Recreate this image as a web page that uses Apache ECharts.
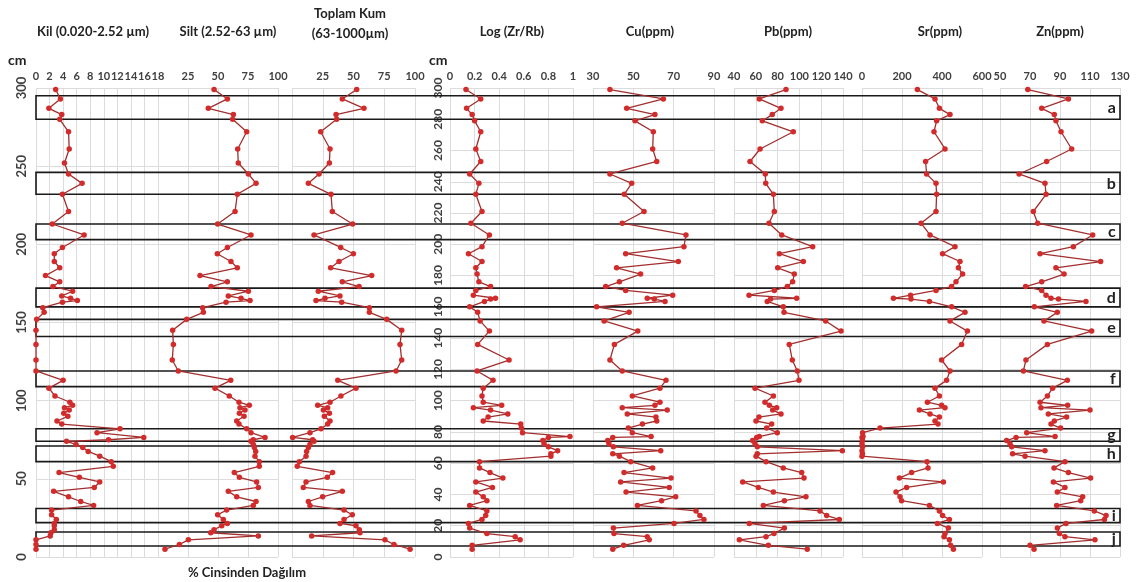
<!DOCTYPE html>
<html>
<head>
<meta charset="utf-8">
<script src="https://cdn.jsdelivr.net/npm/echarts@6/dist/echarts.min.js"></script>
<style>
  html, body { margin: 0; padding: 0; background: #fff; }
  #main { width: 1141px; height: 582px; }
</style>
</head>
<body>
<div id="main"></div>
<script>
// grain size samples (cm)
const grainDepth = [299, 293, 287, 283, 280, 272, 261, 252, 245, 239,
  232, 221, 213, 206, 198, 194, 189, 185, 180, 176,
  173, 170, 167, 165.5, 164, 163, 159.5, 156.5, 152, 145,
  136, 126, 119, 113, 108, 103, 99, 97, 95.5, 94,
  92, 90, 87, 85, 82, 79.5, 76.5, 75, 74, 72,
  70, 67.5, 64.5, 61, 58, 54, 51, 48, 44.5, 42,
  38.5, 35.5, 33, 30, 27, 24, 21.5, 20, 17.5, 15.5,
  13.5, 11, 8, 5]
const kil = [2.9, 3.6, 1.9, 3.8, 3.5, 4.8, 4.9, 4.2, 4.8, 6.8,
  3.9, 4.8, 2.4, 7.1, 3.9, 2.7, 2.7, 3.5, 1.4, 3.5,
  2.5, 5.4, 3.8, 5.1, 6.1, 3.9, 1.0, 1.2, 0.1, 0,
  0, 0, 0, 4.0, 1.9, 2.8, 5.0, 5.4, 4.2, 4.9,
  4.1, 4.7, 3.1, 3.8, 12.4, 9.0, 15.9, 10.7, 4.5, 5.9,
  6.9, 7.7, 9.4, 11.1, 11.4, 3.4, 6.4, 9.4, 8.6, 2.6,
  4.8, 6.6, 8.5, 2.3, 2.3, 3.0, 2.7, 2.7, 2.7, 2.2,
  2.1, 0, 0, 0]
const silt = [46.7, 57.8, 41.9, 62.8, 62.2, 73.9, 66.4, 66.9, 75.3, 81.7,
  66.1, 64.2, 49.7, 77.5, 57.8, 49.4, 60.8, 66.1, 35, 57.8,
  44.2, 75.3, 58.6, 69.2, 76.7, 56.7, 37.2, 37.8, 23.9, 12.2,
  12.8, 11.9, 16.9, 60.6, 47.5, 59.4, 67.5, 76.1, 68.3, 72.5,
  67.8, 71.7, 65.6, 67.5, 73.9, 77.5, 89.2, 79.4, 77.5, 79.4,
  80.3, 81.4, 80.8, 84.4, 84.4, 63.6, 67.8, 82.2, 83.6, 58.6,
  65.6, 81.7, 79.4, 57.2, 49.7, 54.4, 57.8, 53.1, 46.7, 43.9,
  83.6, 25.3, 17.8, 5.8]
const kum = [52.6, 40.9, 58.5, 35.8, 36.3, 23.3, 30.9, 30.4, 22, 13.3,
  31.7, 32.8, 49.3, 17.9, 39.6, 49.9, 38.2, 31.4, 64.8, 40.9,
  54.5, 21.4, 39, 26.8, 19.5, 40.4, 62.9, 62.9, 77, 89.2,
  87.8, 89.2, 84.6, 37.2, 52, 39.8, 30.9, 20.9, 29, 25.5,
  30.4, 26.3, 30.9, 29, 23.6, 14.6, 0.5, 16.8, 17.9, 14.6,
  13.3, 11.9, 11.4, 6, 4.3, 33, 28.7, 11.4, 9.2, 40.9,
  24.9, 13.3, 14.6, 42.3, 49, 42.3, 39, 52, 54.7, 55.3,
  16, 75.6, 82.9, 96]

// geochemistry samples (cm)
const chemDepth = [299, 293, 287, 283, 279, 272, 261, 253, 245, 239,
  232, 221, 213.5, 206, 198.5, 194, 189, 185, 181, 176,
  173, 170.5, 167.5, 165.5, 165, 163.5, 160, 156.5, 151, 144.5,
  136, 126, 119, 113, 108, 103, 99, 97, 95.5, 94,
  91.5, 89.5, 87, 85, 82.5, 79.5, 77, 76.5, 74.5, 72.5,
  70.5, 68, 66, 64.5, 61, 57, 54, 50.5, 48, 44.5,
  41.5, 38.5, 36, 33, 29.5, 26.5, 24, 21.5, 18.5, 15,
  13, 11, 7.5, 5]
const logZrRb = [0.13, 0.25, 0.135, 0.18, 0.2, 0.25, 0.21, 0.25, 0.16, 0.235,
  0.21, 0.26, 0.17, 0.32, 0.26, 0.15, 0.26, 0.21, 0.22, 0.235,
  0.33, 0.21, 0.19, 0.37, 0.33, 0.28, 0.16, 0.225, 0.245, 0.32,
  0.225, 0.48, 0.22, 0.35, 0.27, 0.26, 0.27, 0.42, 0.19, 0.33,
  0.47, 0.31, 0.27, 0.575, 0.58, 0.59, 0.975, 0.8, 0.755, 0.765,
  0.8, 0.875, 0.82, 0.82, 0.24, 0.24, 0.325, 0.43, 0.21, 0.345,
  0.21, 0.27, 0.3, 0.16, 0.3, 0.29, 0.26, 0.15, 0.16, 0.3,
  0.53, 0.57, 0.18, 0.18]
const cu = [38.4, 64.9, 46.7, 60.7, 50.8, 59.9, 59.6, 61.6, 38.4, 49.2,
  45.5, 55.3, 44.5, 76.1, 75.1, 46.2, 72.3, 41.7, 53.6, 43.1,
  36.3, 46.2, 69.5, 56.9, 60.4, 65.7, 31.8, 47.9, 35.5, 52.2,
  40.6, 38.4, 44.5, 66.2, 63.2, 49.5, 63.2, 60.7, 44.5, 66.8,
  47, 61.2, 61.6, 54.5, 47.5, 49.5, 58.8, 39.8, 37.3, 37.9,
  40.1, 63.6, 39.8, 43.1, 48.7, 59.6, 45.4, 68.7, 43.7, 67.8,
  46.4, 71, 64, 52, 81.1, 83, 85, 70.2, 40.1, 40.4,
  56.9, 57.9, 45.2, 39.8]
const pb = [87.7, 63.2, 83.1, 75.1, 66, 94.4, 63.9, 54.7, 68.7, 69.1,
  76.1, 77, 72.1, 83.8, 112.2, 81.6, 103.6, 80.1, 95.3, 93.8,
  88.9, 77, 53.8, 97.5, 73.6, 70.5, 85.2, 85.9, 124.1, 138.2,
  90.7, 93.5, 98.1, 99.6, 59.3, 76.1, 68.4, 72.4, 79.2, 75.5,
  83.1, 62.9, 60.2, 74.6, 70, 79.7, 63.2, 60.8, 57.1, 59.3,
  61.4, 139.4, 61.4, 60.2, 69.4, 85.2, 102.1, 104.2, 48, 62.3,
  76.1, 106, 86.2, 66.9, 118.9, 125, 136.6, 54, 86.2, 76.7,
  69.4, 44.9, 71.5, 107.2]
const sr = [277, 365, 387, 440, 373, 360, 415, 318, 323, 370,
  373, 370, 295, 340, 465, 403, 490, 482, 503, 470,
  448, 370, 243, 157, 245, 337, 448, 515, 440, 527,
  498, 398, 440, 423, 365, 387, 327, 398, 415, 287,
  340, 387, 365, 380, 90, 3, 5, 0, 2, 0,
  3, 0, 2, 0, 325, 330, 248, 187, 407, 223,
  170, 190, 198, 337, 387, 403, 437, 377, 432, 415,
  410, 437, 443, 457]
const zn = [68.5, 95.6, 77.8, 86.2, 87.3, 90.7, 97.8, 81.1, 62.7, 80,
  80.7, 72.2, 75.1, 111.8, 98.9, 76.7, 117.1, 87.3, 92.7, 77.8,
  67.1, 77.8, 80.7, 84, 89, 107.3, 72.9, 88.2, 79.3, 111.1,
  81.6, 67.3, 65.6, 94.9, 85.1, 81.6, 76.7, 95.1, 77.3, 110,
  82.2, 94.4, 86.2, 84, 90.4, 67.8, 86.7, 60.7, 54.4, 56.7,
  57.8, 80, 58.4, 66.7, 93.3, 86, 95.6, 110.4, 85.6, 93.3,
  88.2, 105.1, 103.8, 87.8, 112.9, 120.7, 119.6, 94, 88.2, 89.6,
  93.3, 113.3, 70, 72.7]

// marked zones
const zoneNames = ['a', 'b', 'c', 'd', 'e', 'f', 'g', 'h', 'i', 'j']
const zoneTop = [295, 246, 213, 172, 152, 119, 82, 71, 31, 16]
const zoneBottom = [280, 232, 203, 160, 141, 109, 74, 61, 22, 7]

const panelTitles = ['Kil (0.020-2.52 µm)', 'Silt (2.52-63 µm)', 'Toplam Kum\n(63-1000µm)',
  'Log (Zr/Rb)', 'Cu(ppm)', 'Pb(ppm)', 'Sr(ppm)', 'Zn(ppm)']

const panels = [
  { depth: grainDepth, vals: kil, min: 0, max: 18, step: 2, left: 36, width: 122, tx: 93 },
  { depth: grainDepth, vals: silt, min: 0, max: 100, step: 25, left: 158, width: 120, tx: 228, hideMin: true },
  { depth: grainDepth, vals: kum, min: 0, max: 100, step: 25, left: 292, width: 123, tx: 350, hideMin: true },
  { depth: chemDepth, vals: logZrRb, min: 0, max: 1, step: 0.2, left: 450, width: 123, tx: 512 },
  { depth: chemDepth, vals: cu, min: 30, max: 90, step: 20, left: 593, width: 121, tx: 650 },
  { depth: chemDepth, vals: pb, min: 40, max: 140, step: 20, left: 734, width: 109, tx: 788 },
  { depth: chemDepth, vals: sr, min: 0, max: 600, step: 200, left: 862, width: 120, tx: 940 },
  { depth: chemDepth, vals: zn, min: 50, max: 130, step: 20, left: 1000, width: 120, tx: 1060 }
]

const TOP = 88
const H = 469
const FONT = 'Lato, "Open Sans", sans-serif'
const gridColor = '#dcdcdc'

const chart = echarts.init(document.getElementById('main'))

const grid = []
const xAxis = []
const yAxis = []
const series = []
const graphic = []

panels.forEach((p, i) => {
  grid.push({ left: p.left, top: TOP, width: p.width, height: H, containLabel: false })
  xAxis.push({
    type: 'value',
    gridIndex: i,
    position: 'top',
    min: p.min,
    max: p.max,
    interval: p.step,
    axisLine: { show: false },
    axisTick: { show: false },
    splitLine: { show: true, lineStyle: { color: gridColor, width: 1 } },
    axisLabel: {
      margin: 6,
      showMinLabel: !p.hideMin,
      fontFamily: FONT,
      fontWeight: 'bold',
      fontSize: 11,
      color: '#404040',
      formatter: v => String(Math.round(v * 10) / 10)
    }
  })
  const withLabels = i === 0 || i === 3
  yAxis.push({
    type: 'value',
    gridIndex: i,
    min: 0,
    max: 300,
    interval: i < 3 ? 50 : 20,
    axisLine: { show: false },
    axisTick: { show: false },
    splitLine: { show: true, lineStyle: { color: gridColor, width: 1 } },
    axisLabel: {
      show: withLabels,
      rotate: 90,
      margin: i === 0 ? 8 : 6,
      fontFamily: FONT,
      fontWeight: 'bold',
      fontSize: i === 0 ? 13 : 12,
      color: '#404040'
    }
  })
  series.push({
    type: 'line',
    xAxisIndex: i,
    yAxisIndex: i,
    data: p.vals.map((v, k) => [v, p.depth[k]]),
    symbol: 'circle',
    symbolSize: 5.5,
    showSymbol: true,
    itemStyle: { color: '#d22b2b' },
    lineStyle: { color: '#a32e2e', width: 1.3 },
    silent: true,
    z: 3
  })
  graphic.push({
    type: 'text',
    x: p.tx,
    y: i === 2 ? 4 : 22,
    style: {
      text: panelTitles[i],
      textAlign: 'center',
      fontFamily: FONT,
      fontWeight: 'bold',
      fontSize: 13,
      lineHeight: 20,
      fill: '#222'
    }
  })
})

// full-width grid carrying the zone boxes
const zi = panels.length
grid.push({ left: 36, top: TOP, width: 1084, height: H })
xAxis.push({ type: 'value', gridIndex: zi, min: 0, max: 1, show: false })
yAxis.push({ type: 'value', gridIndex: zi, min: 0, max: 300, show: false })
series.push({
  type: 'line',
  xAxisIndex: zi,
  yAxisIndex: zi,
  data: [],
  silent: true,
  z: 5,
  markArea: {
    silent: true,
    itemStyle: { color: 'rgba(0,0,0,0)', borderColor: '#1a1a1a', borderWidth: 1.6 },
    label: {
      show: true,
      position: 'insideRight',
      distance: 5,
      fontFamily: FONT,
      fontWeight: 'bold',
      fontSize: 16,
      color: '#222'
    },
    data: zoneNames.map((n, k) => [{ name: n, yAxis: zoneTop[k] }, { yAxis: zoneBottom[k] }])
  }
})

graphic.push(
  { type: 'text', x: 8, y: 53, style: { text: 'cm', fontFamily: FONT, fontWeight: 'bold', fontSize: 14, fill: '#222' } },
  { type: 'text', x: 429, y: 53, style: { text: 'cm', fontFamily: FONT, fontWeight: 'bold', fontSize: 14, fill: '#222' } },
  { type: 'text', x: 247, y: 566, style: { text: '% Cinsinden Dağılım', textAlign: 'center', fontFamily: FONT, fontWeight: 'bold', fontSize: 13, fill: '#222' } }
)

chart.setOption({
  animation: false,
  backgroundColor: '#fff',
  grid,
  xAxis,
  yAxis,
  series,
  graphic
})
</script>
</body>
</html>
